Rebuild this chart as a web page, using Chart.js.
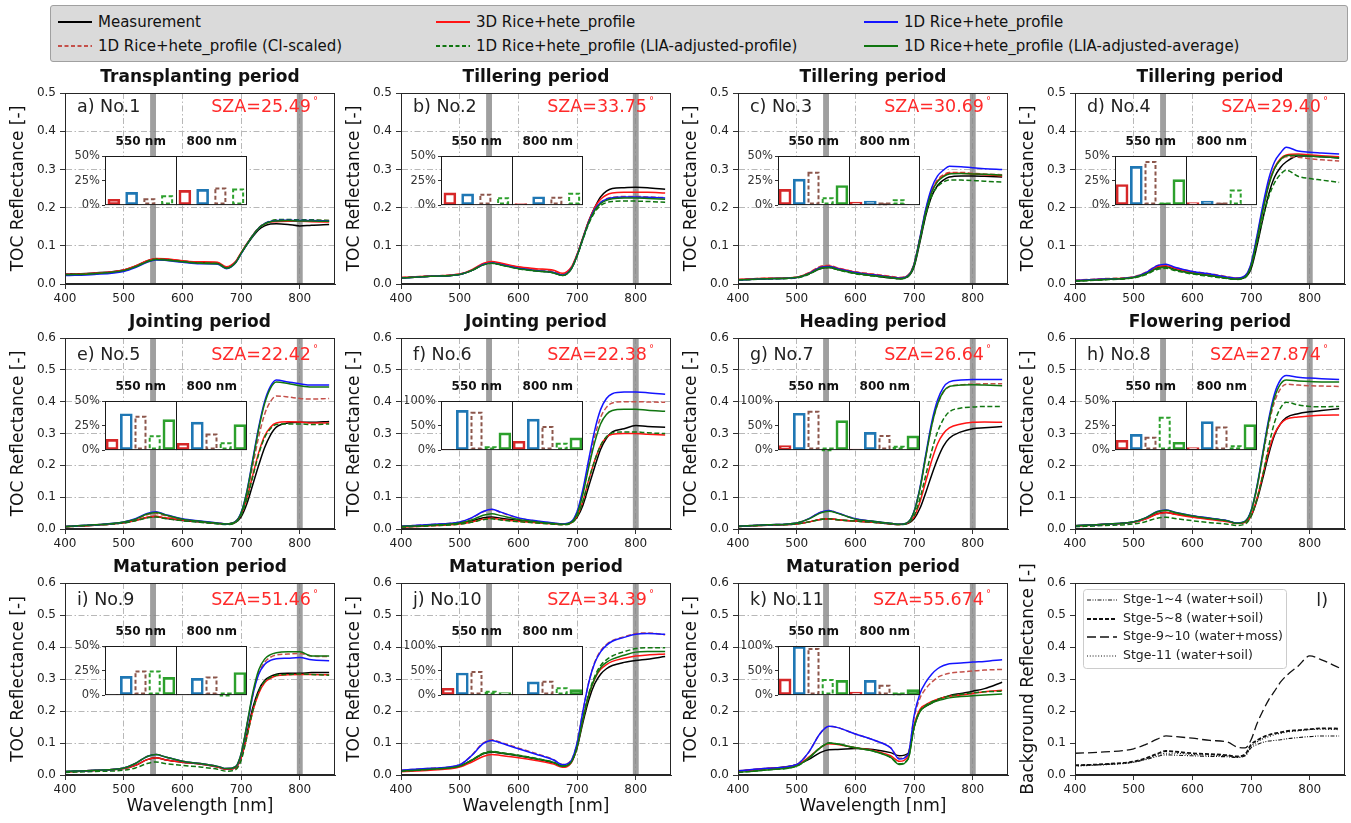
<!DOCTYPE html>
<html><head><meta charset="utf-8">
<script src="https://cdn.jsdelivr.net/npm/chart.js@4.4.0/dist/chart.umd.min.js"></script>
<style>
body{margin:0;background:#fff;}
#wrap{position:relative;width:1351px;height:823px;overflow:hidden;background:#fff;font-family:"DejaVu Sans",sans-serif;}
canvas.pc{position:absolute;}
#legend{position:absolute;left:50px;top:5px;width:1298px;height:57px;background:#dadada;border:1px solid #a0a0a0;border-radius:3px;box-sizing:border-box;}
.li{position:absolute;font-size:15px;color:#111;white-space:nowrap;line-height:18px;}
</style></head><body><div id="wrap"><div id="legend"></div></div>
<script>
const F = '"DejaVu Sans", sans-serif';
// wavelengths (nm)
const WL = [400,450,500,520,540,555,570,600,630,660,675,690,700,710,720,730,740,750,760,780,800,820,850];

// ---- Panel a ----
const a_meas=[0.026,0.029,0.037,0.047,0.060,0.066,0.065,0.060,0.056,0.055,0.043,0.056,0.080,0.103,0.124,0.142,0.152,0.157,0.158,0.156,0.152,0.154,0.156];
const a_r3d =[0.025,0.028,0.037,0.047,0.061,0.067,0.066,0.061,0.058,0.057,0.045,0.058,0.082,0.106,0.128,0.146,0.157,0.162,0.163,0.164,0.164,0.163,0.162];
const a_b1d =[0.022,0.025,0.033,0.043,0.057,0.063,0.062,0.057,0.053,0.052,0.040,0.054,0.079,0.104,0.127,0.146,0.158,0.164,0.166,0.167,0.166,0.166,0.165];
const a_ci  =[0.025,0.028,0.036,0.046,0.060,0.066,0.065,0.060,0.056,0.055,0.043,0.056,0.081,0.105,0.128,0.147,0.158,0.164,0.167,0.168,0.167,0.167,0.166];
const a_liap=[0.024,0.027,0.035,0.045,0.059,0.065,0.064,0.059,0.055,0.054,0.042,0.055,0.080,0.104,0.127,0.146,0.158,0.165,0.168,0.169,0.168,0.168,0.166];
const a_liaa=[0.024,0.027,0.035,0.045,0.058,0.064,0.063,0.058,0.054,0.053,0.041,0.055,0.080,0.104,0.127,0.146,0.157,0.163,0.165,0.166,0.165,0.165,0.164];
// ---- Panel b ----
const b_meas=[0.016,0.020,0.025,0.035,0.051,0.055,0.051,0.041,0.035,0.030,0.023,0.040,0.075,0.120,0.165,0.200,0.228,0.243,0.250,0.252,0.253,0.252,0.248];
const b_r3d =[0.017,0.021,0.026,0.037,0.054,0.059,0.055,0.045,0.040,0.036,0.028,0.044,0.078,0.122,0.166,0.200,0.222,0.233,0.238,0.240,0.240,0.240,0.238];
const b_b1d =[0.016,0.020,0.025,0.035,0.051,0.055,0.051,0.041,0.035,0.030,0.023,0.040,0.075,0.120,0.163,0.195,0.213,0.222,0.226,0.228,0.228,0.227,0.225];
const b_ci  =[0.017,0.021,0.026,0.036,0.053,0.057,0.053,0.044,0.038,0.033,0.026,0.043,0.077,0.122,0.165,0.196,0.214,0.223,0.227,0.229,0.229,0.228,0.226];
const b_liap=[0.016,0.020,0.025,0.035,0.050,0.054,0.050,0.040,0.034,0.029,0.022,0.039,0.073,0.117,0.158,0.188,0.205,0.213,0.216,0.217,0.217,0.216,0.214];
const b_liaa=[0.016,0.020,0.025,0.035,0.050,0.054,0.050,0.040,0.034,0.029,0.022,0.039,0.074,0.119,0.161,0.192,0.210,0.219,0.223,0.225,0.225,0.224,0.222];
// ---- Panel c ----
const c_meas=[0.011,0.014,0.017,0.026,0.040,0.043,0.038,0.028,0.022,0.016,0.014,0.020,0.045,0.110,0.180,0.230,0.258,0.272,0.280,0.283,0.283,0.282,0.280];
const c_r3d =[0.012,0.015,0.018,0.028,0.044,0.047,0.041,0.031,0.025,0.019,0.016,0.023,0.052,0.120,0.192,0.242,0.270,0.283,0.290,0.290,0.288,0.286,0.283];
const c_b1d =[0.011,0.014,0.017,0.027,0.043,0.046,0.040,0.030,0.024,0.018,0.015,0.022,0.052,0.122,0.197,0.252,0.283,0.298,0.308,0.307,0.304,0.302,0.300];
const c_ci  =[0.012,0.015,0.018,0.029,0.046,0.049,0.042,0.032,0.026,0.020,0.017,0.024,0.053,0.121,0.194,0.245,0.273,0.286,0.292,0.292,0.290,0.288,0.286];
const c_liap=[0.010,0.013,0.016,0.025,0.040,0.043,0.037,0.027,0.021,0.016,0.013,0.020,0.048,0.114,0.182,0.230,0.255,0.267,0.272,0.272,0.271,0.269,0.267];
const c_liaa=[0.011,0.014,0.017,0.026,0.041,0.044,0.038,0.028,0.022,0.017,0.014,0.021,0.050,0.118,0.189,0.240,0.268,0.281,0.288,0.289,0.288,0.287,0.285];
// ---- Panel d ----
const d_meas=[0.008,0.012,0.017,0.026,0.042,0.045,0.038,0.028,0.022,0.015,0.013,0.018,0.040,0.100,0.170,0.235,0.280,0.305,0.320,0.335,0.335,0.333,0.330];
const d_r3d =[0.009,0.013,0.018,0.028,0.045,0.048,0.041,0.031,0.025,0.017,0.015,0.021,0.050,0.118,0.195,0.262,0.305,0.328,0.338,0.340,0.338,0.336,0.333];
const d_b1d =[0.009,0.013,0.018,0.029,0.048,0.052,0.044,0.033,0.026,0.018,0.015,0.022,0.054,0.126,0.206,0.275,0.320,0.343,0.358,0.348,0.345,0.343,0.340];
const d_ci  =[0.010,0.014,0.019,0.030,0.048,0.051,0.043,0.033,0.027,0.019,0.016,0.022,0.052,0.122,0.198,0.262,0.303,0.324,0.333,0.332,0.328,0.325,0.322];
const d_liap=[0.007,0.011,0.016,0.024,0.038,0.041,0.035,0.026,0.020,0.014,0.012,0.017,0.044,0.106,0.172,0.228,0.265,0.287,0.298,0.282,0.276,0.272,0.266];
const d_liaa=[0.008,0.012,0.017,0.026,0.041,0.044,0.037,0.028,0.022,0.015,0.013,0.019,0.048,0.116,0.192,0.258,0.302,0.325,0.336,0.337,0.335,0.333,0.330];
// ---- Panel e ----
const e_meas=[0.007,0.012,0.020,0.027,0.036,0.039,0.034,0.027,0.022,0.017,0.015,0.020,0.038,0.080,0.140,0.200,0.255,0.295,0.320,0.333,0.335,0.335,0.338];
const e_r3d =[0.007,0.012,0.020,0.027,0.037,0.040,0.035,0.028,0.023,0.018,0.016,0.022,0.045,0.098,0.170,0.240,0.292,0.320,0.333,0.337,0.336,0.333,0.333];
const e_b1d =[0.008,0.013,0.022,0.032,0.049,0.054,0.046,0.032,0.025,0.019,0.016,0.023,0.052,0.120,0.220,0.320,0.400,0.448,0.468,0.462,0.456,0.452,0.452];
const e_ci  =[0.008,0.013,0.021,0.030,0.045,0.049,0.042,0.030,0.024,0.018,0.016,0.022,0.048,0.110,0.200,0.290,0.360,0.400,0.418,0.415,0.410,0.408,0.410];
const e_liap=[0.007,0.012,0.019,0.026,0.035,0.038,0.033,0.026,0.021,0.016,0.014,0.020,0.043,0.095,0.165,0.235,0.287,0.315,0.328,0.330,0.330,0.328,0.330];
const e_liaa=[0.008,0.013,0.022,0.031,0.047,0.052,0.045,0.031,0.024,0.018,0.016,0.022,0.050,0.117,0.215,0.314,0.393,0.442,0.462,0.457,0.450,0.446,0.446];
// ---- Panel f ----
const f_meas=[0.008,0.012,0.018,0.025,0.035,0.038,0.034,0.027,0.022,0.017,0.015,0.020,0.037,0.075,0.135,0.195,0.250,0.285,0.305,0.315,0.325,0.322,0.320];
const f_r3d =[0.006,0.010,0.016,0.022,0.031,0.034,0.030,0.024,0.020,0.016,0.014,0.019,0.040,0.088,0.155,0.215,0.262,0.288,0.298,0.300,0.300,0.298,0.295];
const f_b1d =[0.009,0.014,0.022,0.035,0.055,0.062,0.053,0.035,0.026,0.019,0.016,0.023,0.055,0.125,0.220,0.310,0.375,0.410,0.425,0.430,0.430,0.428,0.423];
const f_ci  =[0.009,0.014,0.022,0.034,0.054,0.061,0.052,0.034,0.025,0.018,0.016,0.022,0.053,0.118,0.207,0.290,0.350,0.382,0.396,0.400,0.400,0.399,0.398];
const f_liap=[0.006,0.010,0.015,0.021,0.029,0.032,0.028,0.023,0.019,0.015,0.013,0.018,0.040,0.088,0.155,0.215,0.262,0.290,0.302,0.305,0.305,0.302,0.300];
const f_liaa=[0.008,0.012,0.019,0.028,0.043,0.048,0.042,0.030,0.023,0.017,0.015,0.021,0.048,0.110,0.195,0.272,0.330,0.360,0.372,0.376,0.376,0.373,0.370];
// ---- Panel g ----
const g_meas=[0.008,0.012,0.016,0.022,0.030,0.032,0.029,0.025,0.021,0.016,0.014,0.018,0.032,0.065,0.115,0.170,0.220,0.260,0.285,0.305,0.315,0.318,0.322];
const g_r3d =[0.008,0.012,0.016,0.022,0.030,0.032,0.029,0.025,0.021,0.016,0.014,0.019,0.038,0.085,0.150,0.215,0.268,0.300,0.318,0.330,0.335,0.336,0.335];
const g_b1d =[0.009,0.013,0.019,0.032,0.052,0.058,0.050,0.032,0.024,0.018,0.015,0.022,0.056,0.130,0.235,0.335,0.405,0.445,0.462,0.468,0.470,0.470,0.470];
const g_ci  =[0.009,0.013,0.019,0.032,0.052,0.058,0.050,0.032,0.024,0.018,0.015,0.022,0.055,0.127,0.228,0.325,0.392,0.430,0.447,0.453,0.455,0.456,0.456];
const g_liap=[0.008,0.012,0.016,0.022,0.030,0.032,0.029,0.025,0.021,0.016,0.014,0.019,0.042,0.096,0.170,0.245,0.305,0.345,0.368,0.380,0.383,0.385,0.385];
const g_liaa=[0.009,0.013,0.019,0.031,0.050,0.056,0.049,0.031,0.024,0.018,0.015,0.022,0.054,0.126,0.228,0.325,0.393,0.432,0.448,0.452,0.453,0.452,0.450];
// ---- Panel h ----
const h_meas=[0.010,0.015,0.022,0.032,0.048,0.052,0.047,0.040,0.033,0.025,0.018,0.022,0.040,0.090,0.160,0.235,0.295,0.330,0.350,0.362,0.368,0.372,0.378];
const h_r3d =[0.009,0.014,0.021,0.031,0.047,0.052,0.046,0.037,0.030,0.023,0.017,0.021,0.042,0.095,0.170,0.245,0.300,0.330,0.345,0.352,0.355,0.357,0.358];
const h_b1d =[0.010,0.015,0.023,0.035,0.055,0.060,0.053,0.042,0.034,0.026,0.019,0.025,0.058,0.135,0.240,0.345,0.425,0.468,0.482,0.477,0.474,0.472,0.470];
const h_ci  =[0.010,0.015,0.022,0.034,0.053,0.058,0.051,0.040,0.033,0.025,0.018,0.024,0.055,0.128,0.228,0.327,0.400,0.440,0.455,0.452,0.450,0.449,0.448];
const h_liap=[0.007,0.011,0.016,0.023,0.034,0.037,0.033,0.026,0.020,0.015,0.011,0.016,0.040,0.095,0.170,0.260,0.335,0.380,0.398,0.390,0.385,0.384,0.385];
const h_liaa=[0.010,0.015,0.023,0.035,0.054,0.059,0.052,0.041,0.033,0.025,0.018,0.024,0.056,0.132,0.235,0.337,0.413,0.455,0.468,0.465,0.463,0.462,0.462];
// ---- Panel i ----
const i_meas=[0.010,0.014,0.020,0.030,0.048,0.054,0.048,0.040,0.034,0.025,0.018,0.022,0.055,0.130,0.210,0.265,0.295,0.308,0.315,0.318,0.318,0.320,0.320];
const i_r3d =[0.010,0.014,0.020,0.030,0.048,0.054,0.048,0.040,0.034,0.025,0.018,0.022,0.052,0.122,0.200,0.255,0.288,0.302,0.310,0.313,0.314,0.314,0.313];
const i_b1d =[0.011,0.015,0.022,0.036,0.058,0.064,0.057,0.043,0.036,0.027,0.020,0.025,0.065,0.155,0.250,0.315,0.345,0.358,0.363,0.365,0.367,0.360,0.357];
const i_ci  =[0.011,0.015,0.022,0.036,0.058,0.064,0.057,0.043,0.036,0.027,0.020,0.025,0.065,0.155,0.250,0.318,0.352,0.368,0.375,0.378,0.380,0.372,0.370];
const i_liap=[0.008,0.011,0.015,0.022,0.036,0.041,0.036,0.030,0.025,0.018,0.012,0.016,0.045,0.120,0.200,0.260,0.292,0.305,0.312,0.314,0.316,0.314,0.312];
const i_liaa=[0.011,0.015,0.022,0.036,0.058,0.064,0.057,0.043,0.036,0.027,0.020,0.025,0.066,0.158,0.258,0.328,0.362,0.376,0.382,0.385,0.385,0.372,0.372];
// ---- Panel j ----
const j_meas=[0.012,0.018,0.028,0.045,0.066,0.072,0.068,0.060,0.050,0.038,0.028,0.040,0.085,0.165,0.235,0.285,0.315,0.332,0.342,0.352,0.358,0.362,0.370];
const j_r3d =[0.010,0.015,0.025,0.040,0.058,0.064,0.061,0.054,0.045,0.034,0.024,0.038,0.088,0.175,0.250,0.300,0.330,0.345,0.355,0.365,0.372,0.375,0.378];
const j_b1d =[0.015,0.021,0.032,0.060,0.098,0.108,0.100,0.082,0.065,0.047,0.032,0.045,0.100,0.200,0.290,0.350,0.385,0.405,0.418,0.430,0.440,0.442,0.440];
const j_ci  =[0.015,0.021,0.032,0.061,0.100,0.110,0.102,0.084,0.067,0.048,0.033,0.046,0.100,0.200,0.290,0.352,0.388,0.408,0.420,0.432,0.442,0.444,0.438];
const j_liap=[0.012,0.018,0.028,0.046,0.068,0.074,0.070,0.062,0.052,0.040,0.029,0.041,0.090,0.178,0.255,0.308,0.342,0.360,0.372,0.385,0.395,0.398,0.398];
const j_liaa=[0.012,0.018,0.028,0.046,0.067,0.073,0.069,0.061,0.051,0.039,0.027,0.040,0.088,0.175,0.250,0.302,0.335,0.352,0.362,0.374,0.384,0.386,0.386];
// ---- Panel k ----
const k_meas=[0.012,0.020,0.032,0.048,0.070,0.079,0.080,0.083,0.080,0.070,0.060,0.068,0.150,0.200,0.215,0.225,0.235,0.242,0.248,0.255,0.262,0.270,0.290];
const k_r3d =[0.012,0.020,0.032,0.055,0.085,0.098,0.095,0.085,0.077,0.060,0.043,0.060,0.155,0.205,0.220,0.230,0.237,0.242,0.246,0.250,0.255,0.260,0.265];
const k_b1d =[0.013,0.021,0.033,0.070,0.130,0.152,0.148,0.128,0.110,0.085,0.050,0.065,0.185,0.255,0.290,0.315,0.332,0.342,0.348,0.350,0.353,0.355,0.360];
const k_ci  =[0.013,0.021,0.033,0.070,0.130,0.152,0.148,0.128,0.110,0.085,0.052,0.067,0.180,0.240,0.270,0.290,0.305,0.313,0.318,0.322,0.325,0.328,0.330];
const k_liap=[0.008,0.016,0.028,0.052,0.085,0.100,0.097,0.085,0.075,0.055,0.035,0.052,0.150,0.200,0.218,0.228,0.236,0.242,0.247,0.252,0.257,0.260,0.262];
const k_liaa=[0.008,0.016,0.028,0.052,0.085,0.100,0.097,0.085,0.075,0.055,0.033,0.050,0.148,0.198,0.215,0.225,0.232,0.237,0.241,0.245,0.248,0.250,0.253];
// ---- Panel l (background) ----
const l_s14 =[0.030,0.033,0.040,0.048,0.058,0.063,0.062,0.060,0.058,0.057,0.055,0.060,0.085,0.095,0.102,0.106,0.108,0.110,0.113,0.117,0.120,0.122,0.122];
const l_s58 =[0.030,0.034,0.042,0.052,0.066,0.075,0.073,0.068,0.065,0.062,0.058,0.065,0.095,0.108,0.118,0.125,0.130,0.133,0.137,0.140,0.143,0.146,0.145];
const l_s910=[0.068,0.072,0.082,0.095,0.112,0.122,0.120,0.115,0.108,0.103,0.088,0.085,0.110,0.160,0.200,0.235,0.262,0.290,0.310,0.340,0.372,0.360,0.335];
const l_s11 =[0.028,0.032,0.040,0.050,0.062,0.068,0.068,0.064,0.062,0.060,0.056,0.062,0.090,0.103,0.113,0.120,0.126,0.130,0.134,0.138,0.142,0.143,0.142];

// inset relative differences (%) at 550 nm and 800 nm: [3D, 1D, CI-scaled, LIA-profile, LIA-average]
const ins550 = {a:[6,13,7,10], b:[12.5,11.5,11.5,8], c:[16,26.5,34,8,20], d:[21,39.5,45,2.5,26], e:[11,37,35,15,31], f:[1.5,81,78,8,35], g:[9,75,80,1.5,60], h:[10,16,13.5,34,8], i:[0.6,19,25,25,18], j:[14,45,49,9,5], k:[33,99,96,33,30]};
const ins800 = {a:[15,16,18,17], b:[1.5,8.5,8.5,12.5], c:[3,4,2,6,0.6], d:[2.5,4,2.5,16,0.6], e:[7,28.5,17,8,26], f:[18,63,49,15,25], g:[2,36,31,9,29], h:[2.5,29,24,5,26], i:[0.6,17,19,0.6,23], j:[1,27,29,16,11], k:[6,30,21,4,11]};
const insMax = {a:50,b:50,c:50,d:50,e:50,f:100,g:100,h:50,i:50,j:100,k:100};

const PANEL_IDS = ['a','b','c','d','e','f','g','h','i','j','k'];
const TITLES = ['Transplanting period','Tillering period','Tillering period','Tillering period','Jointing period','Jointing period','Heading period','Flowering period','Maturation period','Maturation period','Maturation period'];
const TAGS = ['a) No.1','b) No.2','c) No.3','d) No.4','e) No.5','f) No.6','g) No.7','h) No.8','i) No.9','j) No.10','k) No.11'];
const SZA = ['25.49','33.75','30.69','29.40','22.42','22.38','26.64','27.874','51.46','34.39','55.674'];
const X_TICKS = [400,500,600,700,800];
const BAND_CENTERS = [550, 800];

const SER = {
 a:[a_meas,a_ci,a_r3d,a_liap,a_b1d,a_liaa], b:[b_meas,b_ci,b_r3d,b_liap,b_b1d,b_liaa],
 c:[c_meas,c_ci,c_r3d,c_liap,c_b1d,c_liaa], d:[d_meas,d_ci,d_r3d,d_liap,d_b1d,d_liaa],
 e:[e_meas,e_ci,e_r3d,e_liap,e_b1d,e_liaa], f:[f_meas,f_ci,f_r3d,f_liap,f_b1d,f_liaa],
 g:[g_meas,g_ci,g_r3d,g_liap,g_b1d,g_liaa], h:[h_meas,h_ci,h_r3d,h_liap,h_b1d,h_liaa],
 i:[i_meas,i_ci,i_r3d,i_liap,i_b1d,i_liaa], j:[j_meas,j_ci,j_r3d,j_liap,j_b1d,j_liaa],
 k:[k_meas,k_ci,k_r3d,k_liap,k_b1d,k_liaa]
};
const STY = [
 {label:'Measurement', color:'#000000', dash:[]},
 {label:'1D Rice+hete_profile (CI-scaled)', color:'#c4504a', dash:[5,2.5]},
 {label:'3D Rice+hete_profile', color:'#ff1414', dash:[]},
 {label:'1D Rice+hete_profile (LIA-adjusted-profile)', color:'#107510', dash:[5,2.5]},
 {label:'1D Rice+hete_profile', color:'#1414ff', dash:[]},
 {label:'1D Rice+hete_profile (LIA-adjusted-average)', color:'#107510', dash:[]}
];
const BG_SER = [l_s14, l_s58, l_s910, l_s11];
const BG_STY = [
 {label:'Stge-1~4 (water+soil)', dash:[4,1.5,1,1.5,1,1.5], w:1.1},
 {label:'Stge-5~8 (water+soil)', dash:[4,2], w:1.8},
 {label:'Stge-9~10 (water+moss)', dash:[9,4], w:1.3},
 {label:'Stge-11 (water+soil)', dash:[1,1.8], w:1.2}
];
const INS_STY = [
 {color:'#d62728', dashed:false},{color:'#1f77b4', dashed:false},{color:'#8c564b', dashed:true},
 {color:'#2ca02c', dashed:true},{color:'#2ca02c', dashed:false}
];

// layout
const COLX = [65,401,738,1075], ROWT = [93,338,583], ROWH = [191,191,192], PW = 270;
const wrap = document.getElementById('wrap');
Chart.defaults.font.family = F;

// top legend
const LEGX = [98,476,904], LEGY = [22,46];
STY.forEach((s,k)=>{
  const col=Math.floor(k/2), row=k%2;
  const d=document.createElement('div'); d.className='li';
  d.style.left=LEGX[col]+'px'; d.style.top=(LEGY[row]-9)+'px';
  d.innerHTML='<svg width="34" height="4" style="position:absolute;left:-40px;top:7px"><line x1="0" y1="2" x2="34" y2="2" stroke="'+s.color+'" stroke-width="1.8"'+(s.dash.length?' stroke-dasharray="4,2.5"':'')+'/></svg>'+s.label;
  wrap.appendChild(d);
});

function mkCanvas(l,t,w,h){
  const c=document.createElement('canvas'); c.width=w; c.height=h; c.className='pc';
  c.style.left=l+'px'; c.style.top=t+'px'; c.style.width=w+'px'; c.style.height=h+'px';
  wrap.appendChild(c); return c;
}

function mainPanel(p){
  const row=Math.floor(p/4), col=p%4, L=COLX[col], T=ROWT[row], H=ROWH[row];
  const isBg = (p===11);
  const id = PANEL_IDS[p];
  const xh = row===2 ? 48 : 25;
  const cv = mkCanvas(L-65, T-35, 65+PW+6, 35+H+xh);
  const ymax = row===0 ? 0.5 : 0.6;
  let datasets;
  if(isBg){
    datasets = BG_SER.map((arr,k)=>({data:WL.map((w,i)=>({x:w,y:arr[i]})), borderColor:'#111', borderDash:BG_STY[k].dash, borderWidth:BG_STY[k].w, order:-k}));
  } else {
    datasets = SER[id].map((arr,k)=>({data:WL.map((w,i)=>({x:w,y:arr[i]})), borderColor:STY[k].color, borderDash:STY[k].dash, borderWidth:1.5, order:-k}));
  }
  const tagOff = row===0 ? 14 : 17;
  const deco = {
    id:'deco',
    beforeDatasetsDraw(chart){
      if(isBg) return;
      const {ctx, chartArea:a, scales:{x}} = chart;
      ctx.save(); ctx.fillStyle='rgba(135,135,135,0.8)';
      BAND_CENTERS.forEach(c=>{
        const x0=x.getPixelForValue(c-5), x1=x.getPixelForValue(c+5);
        ctx.fillRect(x0, a.top, x1-x0, a.bottom-a.top);
      });
      ctx.restore();
    },
    afterDraw(chart){
      const {ctx, chartArea:a} = chart;
      ctx.save();
      ctx.setLineDash([]); ctx.strokeStyle='#262626'; ctx.lineWidth=1;
      ctx.strokeRect(a.left+0.5, a.top+0.5, a.right-a.left-1, a.bottom-a.top-1);
      ctx.textBaseline='middle';
      if(!isBg){
        ctx.font='bold 17px '+F; ctx.fillStyle='#111'; ctx.textAlign='center';
        ctx.fillText(TITLES[p], (a.left+a.right)/2, a.top-15);
        ctx.font='17.5px '+F; ctx.fillStyle='#222'; ctx.textAlign='left';
        ctx.fillText(TAGS[p], a.left+12, a.top+tagOff);
        ctx.font='10px '+F; const dw=ctx.measureText('°').width;
        ctx.fillStyle='#ff2a2a'; ctx.textAlign='right';
        ctx.fillText('°', a.right-17, a.top+tagOff-6);
        ctx.font='17.5px '+F;
        ctx.fillText('SZA='+SZA[p], a.right-17-dw-2, a.top+tagOff);
      } else {
        ctx.font='17.5px '+F; ctx.fillStyle='#222'; ctx.textAlign='right';
        ctx.fillText('l)', a.right-17, a.top+18);
        // legend box
        const bx=a.left+8, by=a.top+6, bw=203, bh=79;
        ctx.fillStyle='rgba(255,255,255,0.85)'; ctx.strokeStyle='#cccccc';
        ctx.beginPath(); ctx.roundRect(bx+0.5,by+0.5,bw,bh,3); ctx.fill(); ctx.stroke();
        const offs=[11,30,48,67];
        BG_STY.forEach((s,k)=>{
          const y=by+offs[k];
          ctx.strokeStyle='#111'; ctx.lineWidth=s.w; ctx.setLineDash(s.dash);
          ctx.beginPath(); ctx.moveTo(bx+4,y); ctx.lineTo(bx+34,y); ctx.stroke();
          ctx.setLineDash([]);
          ctx.font='12.5px '+F; ctx.fillStyle='#222'; ctx.textAlign='left';
          ctx.fillText(s.label, bx+40, y);
        });
      }
      ctx.restore();
    }
  };
  new Chart(cv, {
    type:'line',
    data:{datasets},
    options:{
      responsive:false, animation:false, events:[], devicePixelRatio:1,
      layout:{padding:{top:35,right:6,left:0,bottom:0}},
      plugins:{legend:{display:false}, tooltip:{enabled:false}, title:{display:false}},
      elements:{point:{radius:0}, line:{cubicInterpolationMode:'monotone', fill:false}},
      scales:{
        x:{type:'linear', min:400, max:860,
           afterFit:s=>{s.height=xh;},
           afterBuildTicks:s=>{s.ticks = X_TICKS.map(v=>({value:v}));},
           ticks:{font:{size:12}, color:'#222', padding:3, maxRotation:0, autoSkip:false, callback:v=>String(v)},
           grid:{display:true, drawOnChartArea:!isBg, color:'#b8b8b8', lineWidth:1, tickLength:5, tickColor:'#333'},
           border:{display:true, color:'#262626', width:1, dash:[6,2.5,1.5,2.5]},
           title:{display:(row===2 && !isBg), text:'Wavelength [nm]', font:{size:17}, color:'#111', padding:{top:0,bottom:6}}
        },
        y:{min:0, max:ymax,
           afterFit:s=>{s.width=65;},
           ticks:{stepSize:0.1, font:{size:12}, color:'#222', padding:4, callback:v=>Number(v).toFixed(1)},
           grid:{display:true, drawOnChartArea:!isBg, color:'#b8b8b8', lineWidth:1, tickLength:5, tickColor:'#333'},
           border:{display:true, color:'#262626', width:1, dash:[6,2.5,1.5,2.5]},
           title:{display:true, text:isBg?'Background Reflectance [-]':'TOC Reflectance [-]', font:{size:17}, color:'#111', padding:{top:8,bottom:0}}
        }
      }
    },
    plugins:[deco]
  });
}

function insetPanel(p){
  const row=Math.floor(p/4), col=p%4, L=COLX[col], T=ROWT[row];
  const id = PANEL_IDS[p];
  const v550 = ins550[id], v800 = ins800[id];
  const n = v550.length;
  const vals = v550.concat(v800);
  const sty = INS_STY.slice(0,n).concat(INS_STY.slice(0,n));
  const labels = vals.map((v,i)=>(i<n?'550-':'800-')+(i%n));
  const mx = insMax[id];
  const cv = mkCanvas(L+4, T+37, 36+142+3, 26+54+4);
  const deco = {
    id:'insdeco',
    beforeDraw(chart){
      const {ctx, chartArea:a} = chart;
      ctx.save(); ctx.fillStyle='#ffffff'; ctx.fillRect(a.left,a.top,a.right-a.left,a.bottom-a.top); ctx.restore();
    },
    afterDatasetsDraw(chart){
      const {ctx} = chart; const meta = chart.getDatasetMeta(0);
      ctx.save(); ctx.lineWidth=2; ctx.setLineDash([4,2.5]);
      meta.data.forEach((el,i)=>{
        if(!sty[i].dashed) return;
        const {x,y,base,width} = el.getProps(['x','y','base','width'], true);
        ctx.strokeStyle=sty[i].color;
        ctx.strokeRect(x-width/2+1, y+1, width-2, base-y-2);
      });
      ctx.restore();
    },
    afterDraw(chart){
      const {ctx, chartArea:a, scales:{x}} = chart;
      ctx.save();
      ctx.strokeStyle='#1a1a1a'; ctx.lineWidth=1;
      ctx.strokeRect(a.left+0.5, a.top+0.5, a.right-a.left-1, a.bottom-a.top-1);
      const xm = Math.round((x.getPixelForValue(n-1)+x.getPixelForValue(n))/2)+0.5;
      ctx.beginPath(); ctx.moveTo(xm,a.top); ctx.lineTo(xm,a.bottom); ctx.stroke();
      ctx.font='bold 12px '+F; ctx.fillStyle='#111'; ctx.textAlign='center'; ctx.textBaseline='middle';
      ctx.fillText('550 nm', (a.left+xm)/2, a.top-14);
      ctx.fillText('800 nm', (xm+a.right)/2, a.top-14);
      ctx.restore();
    }
  };
  new Chart(cv, {
    type:'bar',
    data:{labels, datasets:[{
      data:vals,
      backgroundColor:'rgba(255,255,255,0)',
      borderColor:sty.map(s=>s.color),
      borderWidth:sty.map(s=>s.dashed?0:2),
      borderSkipped:false,
      barThickness:12
    }]},
    options:{
      responsive:false, animation:false, events:[], devicePixelRatio:1,
      layout:{padding:{top:26,right:3,left:0,bottom:4}},
      plugins:{legend:{display:false}, tooltip:{enabled:false}},
      scales:{
        x:{display:false},
        y:{min:0, max:mx, afterFit:s=>{s.width=36;},
           ticks:{stepSize:mx/2, font:{size:11.5}, color:'#333', padding:2, callback:v=>v+'%'},
           grid:{drawOnChartArea:false, drawTicks:true, tickLength:3, tickColor:'#333'},
           border:{display:false}
        }
      }
    },
    plugins:[deco]
  });
}

for(let p=0;p<12;p++) mainPanel(p);
for(let p=0;p<11;p++) insetPanel(p);
</script>
</body></html>
